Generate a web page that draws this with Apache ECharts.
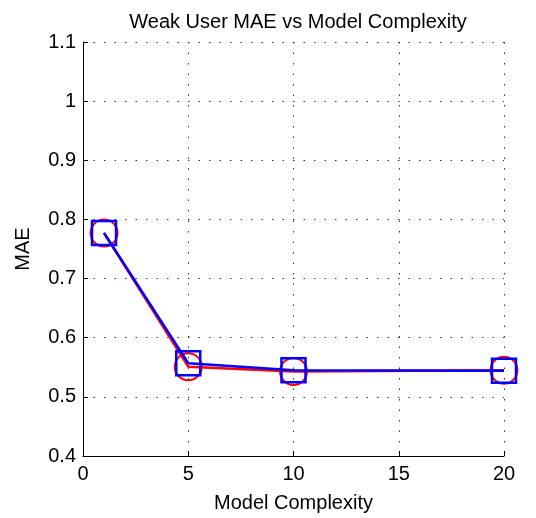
<!DOCTYPE html>
<html>
<head>
<meta charset="utf-8">
<script src="https://cdn.jsdelivr.net/npm/echarts@6/dist/echarts.min.js"></script>
<style>
  html, body { margin: 0; padding: 0; background: #fff; }
  #main { width: 536px; height: 518px; }
</style>
</head>
<body>
<div id="main"></div>
<script>
// values
const complexity = [1, 5, 10, 20];
const maeRed = [0.777, 0.551, 0.543, 0.545];
const maeBlue = [0.777, 0.557, 0.545, 0.544];

const toPairs = (xs, ys) => xs.map((x, i) => [x, ys[i]]);

const gridDots = {
  show: true,
  lineStyle: { color: '#333', width: 1, type: [1.5, 9] }
};

let chart = echarts.init(document.getElementById('main'));

chart.setOption({
  animation: false,
  textStyle: { fontFamily: 'Liberation Sans, Arial, sans-serif' },
  title: {
    text: 'Weak User MAE vs Model Complexity',
    left: 293,
    textAlign: 'center',
    top: 7,
    textStyle: { fontSize: 20, fontWeight: 'normal', color: '#000' }
  },
  grid: { left: 83, right: 32, top: 42, bottom: 61 },
  xAxis: {
    type: 'value',
    min: 0,
    max: 20,
    interval: 5,
    name: 'Model Complexity',
    nameLocation: 'middle',
    nameGap: 37,
    nameTextStyle: { fontSize: 20, color: '#000' },
    axisLine: { show: true, onZero: false, lineStyle: { color: '#000', width: 1 } },
    axisTick: { show: true, inside: true, length: 5, lineStyle: { color: '#000' } },
    axisLabel: { fontSize: 20, color: '#000', margin: 8 },
    splitLine: gridDots
  },
  yAxis: {
    type: 'value',
    min: 0.4,
    max: 1.1,
    interval: 0.1,
    name: 'MAE',
    nameLocation: 'middle',
    nameGap: 50,
    nameTextStyle: { fontSize: 20, color: '#000' },
    axisLine: { show: true, onZero: false, lineStyle: { color: '#000', width: 1 } },
    axisTick: { show: true, inside: true, length: 5, lineStyle: { color: '#000' } },
    axisLabel: {
      fontSize: 20,
      color: '#000',
      margin: 7,
      formatter: v => (Math.round(v * 10) / 10).toString()
    },
    splitLine: gridDots
  },
  series: [
    {
      type: 'line',
      data: toPairs(complexity, maeRed),
      symbol: 'circle',
      symbolSize: 27,
      itemStyle: { color: 'transparent', borderColor: '#ff0000', borderWidth: 2 },
      lineStyle: { color: '#ff0000', width: 2.5 },
      z: 2
    },
    {
      type: 'line',
      data: toPairs(complexity, maeBlue),
      symbol: 'rect',
      symbolSize: 24,
      itemStyle: { color: 'transparent', borderColor: '#0000ff', borderWidth: 2.5 },
      lineStyle: { color: '#0000ff', width: 2.5 },
      z: 3
    }
  ]
});
</script>
</body>
</html>
